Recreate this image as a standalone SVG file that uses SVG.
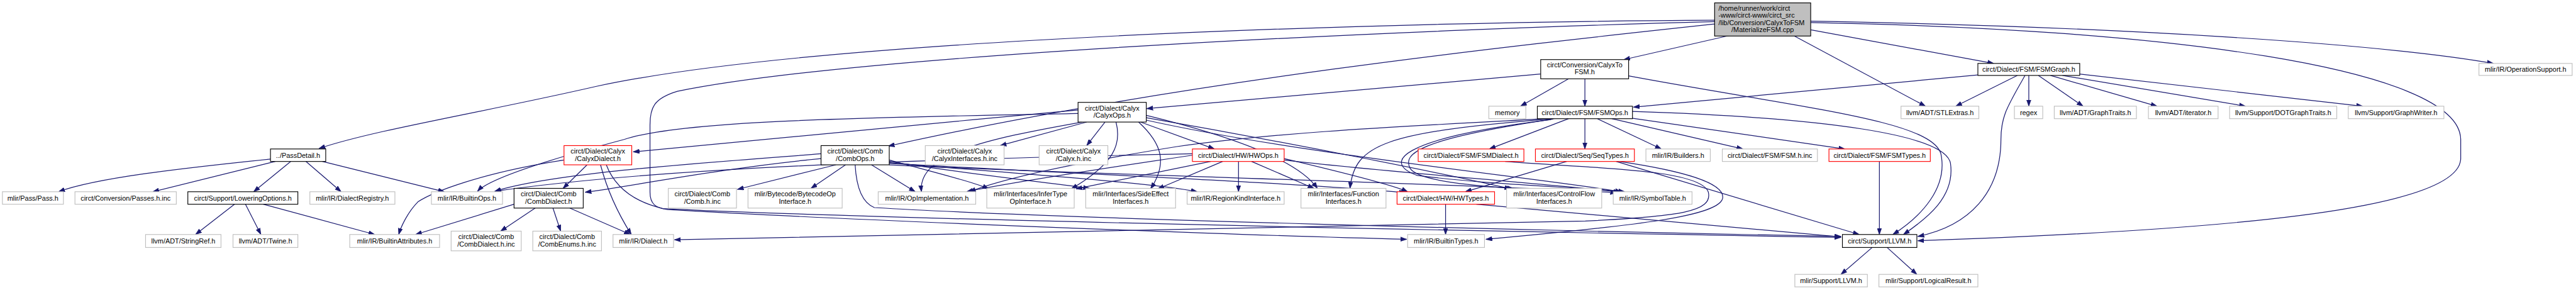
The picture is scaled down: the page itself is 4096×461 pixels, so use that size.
<svg xmlns="http://www.w3.org/2000/svg" width="4096" height="461" viewBox="0 0 4096 461">
<style>
.n rect{fill:#fff;stroke-width:1.5}
.k rect{stroke:#000}
.g rect{stroke:#bfbfbf}
.r rect{stroke:#ff0000}
.rt rect{fill:#bfbfbf;stroke:#000}
text{font-family:"Liberation Sans",Arial,sans-serif;font-size:14.3px;text-anchor:middle;fill:#000}
.l{text-anchor:start}
#edges path{fill:none;stroke:#191970;stroke-width:1.6;marker-end:url(#a)}
</style>
<defs>
<marker id="a" markerUnits="userSpaceOnUse" markerWidth="14" markerHeight="10" refX="13" refY="5" orient="auto">
<path d="M0,0.5 L13,5 L0,9.5 z" fill="#191970" stroke="#191970" stroke-width="1"/>
</marker>
</defs>
<rect width="4096" height="461" fill="#fff"/>
<g transform="scale(0.763894)">
<g id="edges">
<path d="M3569,42 C2900,45 1700,80 1240,180 C1000,235 780,270 664,309"/>
<path d="M3608,72 L3380,124"/>
<path d="M3569,50 C3150,95 2450,170 1849,304"/>
<path d="M3569,45 C3000,60 1800,110 1410,190 C1360,205 1353,225 1353,260 L1353,400 C1353,425 1365,433 1390,436 C1800,460 2600,490 2928,498"/>
<path d="M3769,62 L4150,132"/>
<path d="M3769,44 C4400,55 4950,90 5190,132"/>
<path d="M3769,47 C4500,60 5120,140 5122,290 L5122,330 C5120,440 4600,480 3992,501"/>
<path d="M3735,75 L4008,221"/>
<path d="M3265,164 L3165,221"/>
<path d="M3299,164 L3299,221"/>
<path d="M3207,154 L2387,226"/>
<path d="M3390,158 C3750,225 4020,250 4040,320 C4055,390 4000,450 3940,488"/>
<path d="M3265,247 L3100,310"/>
<path d="M3299,247 L3299,310"/>
<path d="M3325,247 L3458,310"/>
<path d="M3355,247 L3628,310"/>
<path d="M3390,245 L3840,310"/>
<path d="M3398,232 C3800,245 4050,280 4060,340 C4070,410 4010,455 3962,488"/>
<path d="M3235,247 C2880,275 2820,300 2810,392"/>
<path d="M3232,248 C2950,290 2920,320 2935,350 C2950,375 3050,385 3150,392"/>
<path d="M3228,249 C2900,290 2880,340 2950,365 C3100,385 3300,390 3382,399"/>
<path d="M3215,247 C3000,260 2700,270 2450,305 C2200,345 2080,375 2018,399"/>
<path d="M2386,240 C2550,280 2700,330 2742,392"/>
<path d="M2386,245 C2700,300 3000,360 3145,393"/>
<path d="M2386,250 C2700,320 3200,370 3375,399"/>
<path d="M2673,330 C2800,360 2900,385 2930,399"/>
<path d="M2605,336 L2735,392"/>
<path d="M2673,333 C2900,360 3200,380 3372,400"/>
<path d="M1851,340 C2200,360 2700,380 2925,401"/>
<path d="M1851,343 C2300,365 3000,380 3365,401"/>
<path d="M2482,323 C2300,350 2100,380 2012,399"/>
<path d="M2520,336 L2240,393"/>
<path d="M2545,336 L2410,393"/>
<path d="M2578,336 L2578,399"/>
<path d="M2482,320 C2000,330 1400,345 1030,398"/>
<path d="M2244,229 C1900,260 1500,300 1318,316"/>
<path d="M2244,236 C1800,245 1420,250 1300,290 C1150,330 1020,370 994,398"/>
<path d="M2262,254 L2082,303"/>
<path d="M2300,254 L2262,303"/>
<path d="M2252,254 C2050,290 1910,320 1918,399"/>
<path d="M2323,254 C2335,300 2320,340 2230,393"/>
<path d="M2370,254 C2420,300 2430,340 2395,393"/>
<path d="M2374,254 L2528,310"/>
<path d="M1222,343 L1172,392"/>
<path d="M1250,343 C1265,400 1290,450 1314,488"/>
<path d="M1262,343 C1280,390 1320,420 1380,434 C1800,455 3000,480 3832,494"/>
<path d="M1174,333 C1000,360 900,400 870,420 C850,440 835,470 830,488"/>
<path d="M1740,343 L1535,394"/>
<path d="M1760,343 L1688,392"/>
<path d="M1814,343 L1905,399"/>
<path d="M1851,333 C1950,360 2030,380 2058,393"/>
<path d="M1851,336 C2000,360 2180,380 2268,392"/>
<path d="M1851,339 C2100,360 2400,380 2492,399"/>
<path d="M1709,330 C1500,350 1300,390 1218,400"/>
<path d="M1709,320 C1450,340 1150,360 1030,398"/>
<path d="M1780,343 C1782,380 1790,420 1820,432 C2200,455 3200,480 3832,492"/>
<path d="M563,331 C380,350 200,370 122,399"/>
<path d="M573,336 L318,399"/>
<path d="M605,336 L528,399"/>
<path d="M637,336 L710,399"/>
<path d="M671,336 L925,399"/>
<path d="M488,425 L407,488"/>
<path d="M511,425 L543,488"/>
<path d="M548,425 L780,488"/>
<path d="M1070,425 L865,488"/>
<path d="M1114,433 L1042,481"/>
<path d="M1151,433 L1167,481"/>
<path d="M1186,433 L1312,488"/>
<path d="M3133,336 C3300,350 3540,350 3556,400 C3565,440 3500,450 3300,460 C2500,480 1800,490 1404,499"/>
<path d="M3261,336 L3050,399"/>
<path d="M3370,336 C3500,355 3586,380 3586,410 C3586,450 3400,470 3093,498"/>
<path d="M3364,336 L3870,488"/>
<path d="M3009,425 L3009,488"/>
<path d="M3073,425 L3832,493"/>
<path d="M3912,336 L3912,488"/>
<path d="M4117,156 L3400,223"/>
<path d="M4199,157 L4071,221"/>
<path d="M4215,157 C4180,220 4165,240 4165,290 C4165,400 4100,470 3992,492"/>
<path d="M4223,157 L4223,221"/>
<path d="M4243,157 L4336,221"/>
<path d="M4268,157 L4490,221"/>
<path d="M4293,157 L4674,221"/>
<path d="M4328,154 L4918,221"/>
<path d="M3897,515 L3832,571"/>
<path d="M3928,515 L3990,571"/>
</g>
<g id="root" class="n rt"><rect x="3569" y="6" width="200" height="69"/><text class="l" x="3577" y="22">/home/runner/work/circt</text><text class="l" x="3577" y="37">-www/circt-www/circt_src</text><text class="l" x="3577" y="52">/lib/Conversion/CalyxToFSM</text><text x="3669" y="67">/MaterializeFSM.cpp</text></g>
<g id="calyxtofsm" class="n k"><rect x="3207" y="124" width="183" height="40"/><text x="3298.5" y="140">circt/Conversion/CalyxTo</text><text x="3298.5" y="155">FSM.h</text></g>
<g id="fsmgraph" class="n k"><rect x="4117" y="132" width="212" height="25"/><text x="4223" y="149.5">circt/Dialect/FSM/FSMGraph.h</text></g>
<g id="opsupport" class="n g"><rect x="5160" y="132" width="194" height="25"/><text x="5257" y="149.5">mlir/IR/OperationSupport.h</text></g>
<g id="calyxops" class="n k"><rect x="2244" y="213" width="142" height="41"/><text x="2315" y="230">circt/Dialect/Calyx</text><text x="2315" y="245">/CalyxOps.h</text></g>
<g id="memory" class="n g"><rect x="3099" y="221" width="77" height="26"/><text x="3137.5" y="239">memory</text></g>
<g id="fsmops" class="n k"><rect x="3200" y="221" width="198" height="26"/><text x="3299" y="239">circt/Dialect/FSM/FSMOps.h</text></g>
<g id="stlextras" class="n g"><rect x="3957" y="221" width="162" height="26"/><text x="4038" y="239">llvm/ADT/STLExtras.h</text></g>
<g id="regex" class="n g"><rect x="4193" y="221" width="59" height="26"/><text x="4222.5" y="239">regex</text></g>
<g id="graphtraits" class="n g"><rect x="4276" y="221" width="171" height="26"/><text x="4361.5" y="239">llvm/ADT/GraphTraits.h</text></g>
<g id="iterator" class="n g"><rect x="4472" y="221" width="145" height="26"/><text x="4544.5" y="239">llvm/ADT/iterator.h</text></g>
<g id="dotgraphtraits" class="n g"><rect x="4641" y="221" width="223" height="26"/><text x="4752.5" y="239">llvm/Support/DOTGraphTraits.h</text></g>
<g id="graphwriter" class="n g"><rect x="4888" y="221" width="199" height="26"/><text x="4987.5" y="239">llvm/Support/GraphWriter.h</text></g>
<g id="passdetail" class="n k"><rect x="563" y="310" width="115" height="26"/><text x="620.5" y="328">../PassDetail.h</text></g>
<g id="calyxdialect" class="n r"><rect x="1174" y="303" width="141" height="40"/><text x="1244.5" y="320">circt/Dialect/Calyx</text><text x="1244.5" y="335">/CalyxDialect.h</text></g>
<g id="combops" class="n k"><rect x="1709" y="303" width="142" height="40"/><text x="1780" y="320">circt/Dialect/Comb</text><text x="1780" y="335">/CombOps.h</text></g>
<g id="calyxinterfaces" class="n g"><rect x="1926" y="303" width="164" height="40"/><text x="2008" y="320">circt/Dialect/Calyx</text><text x="2008" y="335">/CalyxInterfaces.h.inc</text></g>
<g id="calyxinc" class="n g"><rect x="2163" y="303" width="143" height="40"/><text x="2234.5" y="320">circt/Dialect/Calyx</text><text x="2234.5" y="335">/Calyx.h.inc</text></g>
<g id="hwops" class="n r"><rect x="2482" y="310" width="191" height="26"/><text x="2577.5" y="328">circt/Dialect/HW/HWOps.h</text></g>
<g id="fsmdialect" class="n r"><rect x="2952" y="310" width="220" height="26"/><text x="3062" y="328">circt/Dialect/FSM/FSMDialect.h</text></g>
<g id="seqtypes" class="n r"><rect x="3196" y="310" width="206" height="26"/><text x="3299" y="328">circt/Dialect/Seq/SeqTypes.h</text></g>
<g id="builders" class="n g"><rect x="3426" y="310" width="134" height="26"/><text x="3493" y="328">mlir/IR/Builders.h</text></g>
<g id="fsminc" class="n g"><rect x="3585" y="310" width="198" height="26"/><text x="3684" y="328">circt/Dialect/FSM/FSM.h.inc</text></g>
<g id="fsmtypes" class="n r"><rect x="3807" y="310" width="211" height="26"/><text x="3912.5" y="328">circt/Dialect/FSM/FSMTypes.h</text></g>
<g id="pass" class="n g"><rect x="5" y="399" width="127" height="26"/><text x="68.5" y="417">mlir/Pass/Pass.h</text></g>
<g id="passesinc" class="n g"><rect x="156" y="399" width="211" height="26"/><text x="261.5" y="417">circt/Conversion/Passes.h.inc</text></g>
<g id="loweringoptions" class="n k"><rect x="391" y="399" width="229" height="26"/><text x="505.5" y="417">circt/Support/LoweringOptions.h</text></g>
<g id="dialectregistry" class="n g"><rect x="645" y="399" width="177" height="26"/><text x="733.5" y="417">mlir/IR/DialectRegistry.h</text></g>
<g id="builtinops" class="n g"><rect x="898" y="399" width="148" height="26"/><text x="972" y="417">mlir/IR/BuiltinOps.h</text></g>
<g id="combdialect" class="n k"><rect x="1070" y="392" width="144" height="41"/><text x="1142" y="409">circt/Dialect/Comb</text><text x="1142" y="424">/CombDialect.h</text></g>
<g id="combinc" class="n g"><rect x="1391" y="392" width="142" height="41"/><text x="1462" y="409">circt/Dialect/Comb</text><text x="1462" y="424">/Comb.h.inc</text></g>
<g id="bytecode" class="n g"><rect x="1557" y="392" width="196" height="41"/><text x="1655" y="409">mlir/Bytecode/BytecodeOp</text><text x="1655" y="424">Interface.h</text></g>
<g id="opimpl" class="n g"><rect x="1828" y="399" width="203" height="26"/><text x="1929.5" y="417">mlir/IR/OpImplementation.h</text></g>
<g id="infertype" class="n g"><rect x="2054" y="392" width="182" height="41"/><text x="2145" y="409">mlir/Interfaces/InferType</text><text x="2145" y="424">OpInterface.h</text></g>
<g id="sideeffect" class="n g"><rect x="2260" y="392" width="187" height="41"/><text x="2353.5" y="409">mlir/Interfaces/SideEffect</text><text x="2353.5" y="424">Interfaces.h</text></g>
<g id="regionkind" class="n g"><rect x="2471" y="399" width="202" height="26"/><text x="2572" y="417">mlir/IR/RegionKindInterface.h</text></g>
<g id="function" class="n g"><rect x="2708" y="392" width="177" height="41"/><text x="2796.5" y="409">mlir/Interfaces/Function</text><text x="2796.5" y="424">Interfaces.h</text></g>
<g id="hwtypes" class="n r"><rect x="2908" y="399" width="203" height="26"/><text x="3009.5" y="417">circt/Dialect/HW/HWTypes.h</text></g>
<g id="controlflow" class="n g"><rect x="3136" y="392" width="198" height="41"/><text x="3235" y="409">mlir/Interfaces/ControlFlow</text><text x="3235" y="424">Interfaces.h</text></g>
<g id="symboltable" class="n g"><rect x="3358" y="399" width="164" height="26"/><text x="3440" y="417">mlir/IR/SymbolTable.h</text></g>
<g id="stringref" class="n g"><rect x="303" y="488" width="157" height="27"/><text x="381.5" y="506">llvm/ADT/StringRef.h</text></g>
<g id="twine" class="n g"><rect x="485" y="488" width="135" height="27"/><text x="552.5" y="506">llvm/ADT/Twine.h</text></g>
<g id="builtinattributes" class="n g"><rect x="728" y="488" width="187" height="27"/><text x="821.5" y="506">mlir/IR/BuiltinAttributes.h</text></g>
<g id="combdialectinc" class="n g"><rect x="939" y="481" width="146" height="41"/><text x="1012" y="498">circt/Dialect/Comb</text><text x="1012" y="513">/CombDialect.h.inc</text></g>
<g id="combenums" class="n g"><rect x="1109" y="481" width="143" height="41"/><text x="1180.5" y="498">circt/Dialect/Comb</text><text x="1180.5" y="513">/CombEnums.h.inc</text></g>
<g id="dialect" class="n g"><rect x="1276" y="488" width="126" height="27"/><text x="1339" y="506">mlir/IR/Dialect.h</text></g>
<g id="builtintypes" class="n g"><rect x="2930" y="488" width="160" height="27"/><text x="3010" y="506">mlir/IR/BuiltinTypes.h</text></g>
<g id="circtllvm" class="n k"><rect x="3835" y="488" width="155" height="27"/><text x="3912.5" y="506">circt/Support/LLVM.h</text></g>
<g id="mlirllvm" class="n g"><rect x="3736" y="571" width="151" height="26"/><text x="3811.5" y="589">mlir/Support/LLVM.h</text></g>
<g id="logicalresult" class="n g"><rect x="3911" y="571" width="206" height="26"/><text x="4014" y="589">mlir/Support/LogicalResult.h</text></g>
</g>
</svg>
